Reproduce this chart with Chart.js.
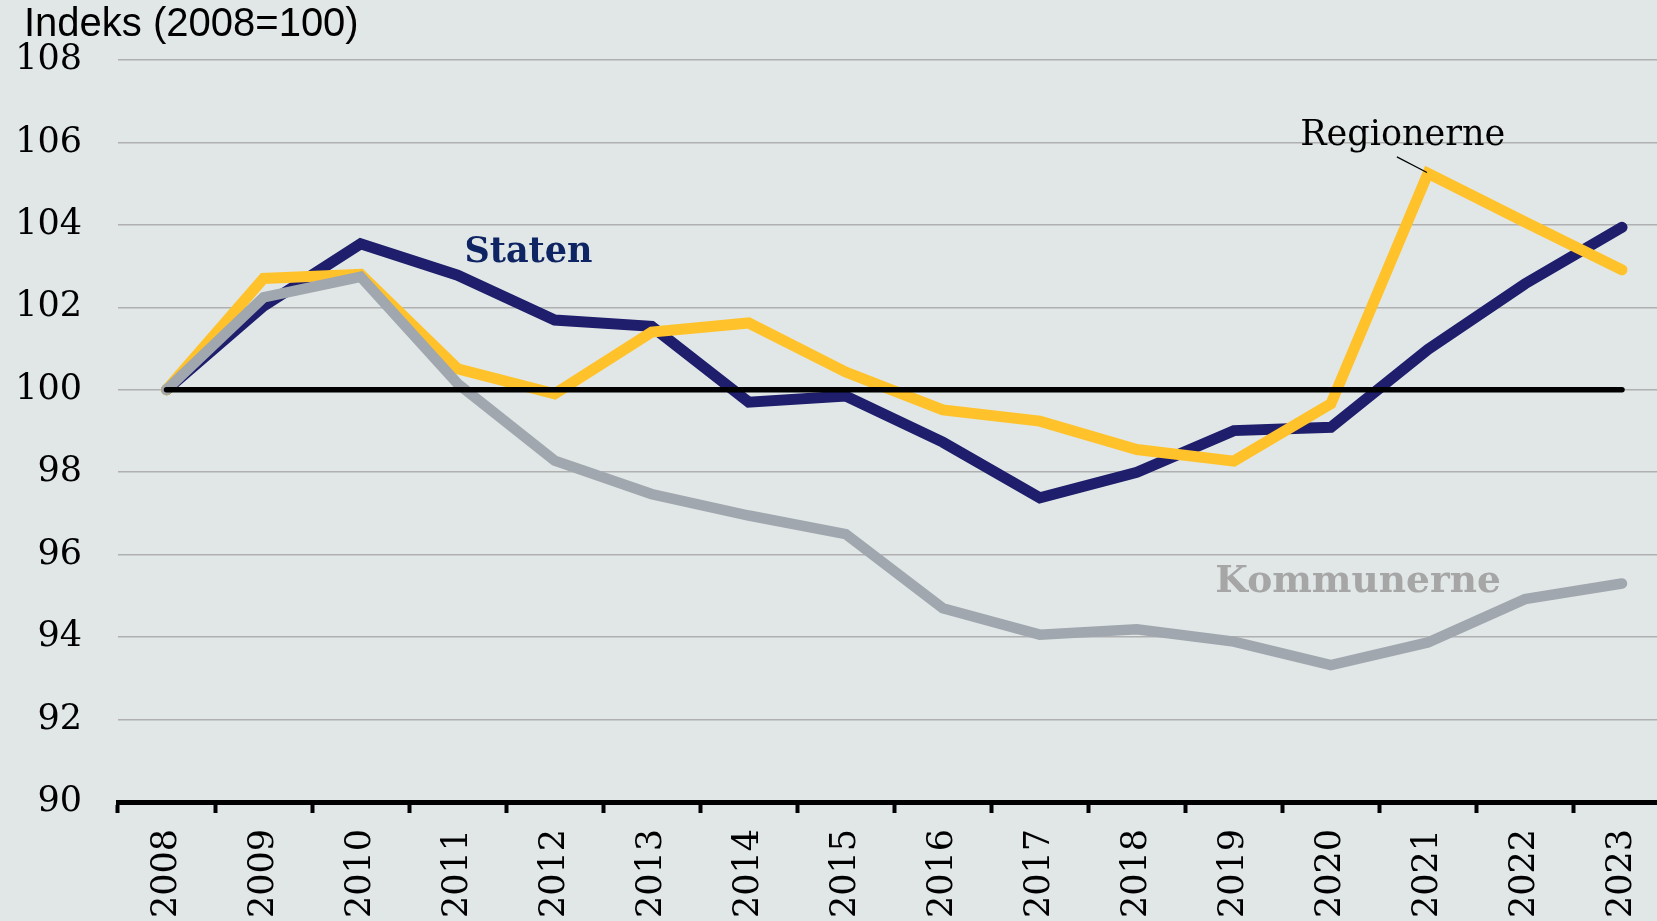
<!DOCTYPE html>
<html>
<head>
<meta charset="utf-8">
<script src="https://cdn.jsdelivr.net/npm/chart.js@4.4.0/dist/chart.umd.min.js"></script>
<style>
  html, body { margin: 0; padding: 0; background: #e1e7e7; overflow: hidden; }
  #wrap { width: 1680px; height: 921px; position: relative; }
</style>
</head>
<body>
<div id="wrap"><canvas id="c" width="1680" height="921"></canvas></div>
<script>
const years = ['2008','2009','2010','2011','2012','2013','2014','2015','2016','2017','2018','2019','2020','2021','2022','2023'];
const staten      = [100, 102.03, 103.54, 102.78, 101.69, 101.54, 99.70, 99.85, 98.73, 97.38, 98.00, 99.01, 99.09, 100.98, 102.57, 103.94];
const regionerne  = [100, 102.70, 102.80, 100.51, 99.90, 101.40, 101.62, 100.43, 99.51, 99.24, 98.55, 98.27, 99.66, 105.25, 104.07, 102.91];
const kommunerne  = [100, 102.24, 102.74, 100.15, 98.28, 97.47, 96.95, 96.50, 94.70, 94.06, 94.19, 93.89, 93.32, 93.87, 94.92, 95.30];
const baseline    = [100, 100, 100, 100, 100, 100, 100, 100, 100, 100, 100, 100, 100, 100, 100, 100];
const yTicks      = [90, 92, 94, 96, 98, 100, 102, 104, 106, 108];
const titleText   = 'Indeks (2008=100)';

const labelsPlugin = {
  id: 'labelsPlugin',
  afterDraw(chart) {
    const ctx = chart.ctx;
    const xs = chart.scales.x, ys = chart.scales.y;
    const x0 = xs.getPixelForValue(0), step = xs.getPixelForValue(1) - x0;
    const px = i => x0 + i * step;
    ctx.save();
    // title
    ctx.fillStyle = '#000';
    ctx.font = '40px "Liberation Sans", Arial, sans-serif';
    ctx.textAlign = 'left';
    ctx.textBaseline = 'alphabetic';
    ctx.fillText(titleText, 24, 36);
    // series labels
    ctx.textAlign = 'center';
    ctx.textBaseline = 'middle';
    ctx.fillStyle = '#0f2462';
    ctx.font = 'bold 35px "DejaVu Serif", serif';
    ctx.fillText('Staten', px(3.73), ys.getPixelForValue(103.31));
    ctx.fillStyle = '#000';
    ctx.font = '35px "DejaVu Serif", serif';
    ctx.fillText('Regionerne', px(12.74), ys.getPixelForValue(106.17));
    ctx.fillStyle = '#a6a6a6';
    ctx.font = 'bold 37.5px "DejaVu Serif", serif';
    ctx.fillText('Kommunerne', px(12.28), ys.getPixelForValue(95.34));
    // leader line
    ctx.strokeStyle = '#000';
    ctx.lineWidth = 1.2;
    ctx.beginPath();
    ctx.moveTo(px(12.68), ys.getPixelForValue(105.65));
    ctx.lineTo(px(12.99), ys.getPixelForValue(105.27));
    ctx.stroke();
    ctx.restore();
  }
};

function ds(label, data, color, width) {
  return {
    label, data,
    borderColor: color, backgroundColor: color,
    borderWidth: width, pointRadius: 0, pointHoverRadius: 0,
    borderCapStyle: 'round', borderJoinStyle: 'miter',
    tension: 0, fill: false
  };
}

new Chart(document.getElementById('c'), {
  type: 'line',
  data: {
    labels: years,
    datasets: [
      ds('Basis', baseline, '#000000', 5.5),
      ds('Kommunerne', kommunerne, '#a0a7ae', 10.5),
      ds('Regionerne', regionerne, '#ffc22a', 11),
      ds('Staten', staten, '#1f1e6c', 11)
    ]
  },
  options: {
    responsive: false,
    animation: false,
    events: [],
    layout: { padding: { top: 60, left: 0, right: 0, bottom: 0 } },
    plugins: { legend: { display: false }, tooltip: { enabled: false }, title: { display: false } },
    scales: {
      x: {
        type: 'category',
        offset: true,
        grid: { display: true, drawOnChartArea: false, drawTicks: true, tickLength: 11, tickWidth: 4, tickColor: '#000', offset: true },
        border: { display: true, color: '#000', width: 5 },
        ticks: {
          color: '#000',
          font: { family: '"DejaVu Serif", serif', size: 35 },
          minRotation: 90, maxRotation: 90, padding: 16, autoSkip: false
        },
        afterFit(scale) { scale.height = 119; }
      },
      y: {
        min: 90, max: 108,
        afterBuildTicks(scale) { scale.ticks = yTicks.map(v => ({ value: v })); },
        grid: { color: '#b0b0b0', lineWidth: 1.5, drawTicks: false },
        border: { display: false },
        ticks: {
          color: '#000',
          font: { family: '"DejaVu Serif", serif', size: 35 },
          padding: 36
        },
        afterFit(scale) { scale.width = 118; }
      }
    }
  },
  plugins: [labelsPlugin]
});
</script>
</body>
</html>
